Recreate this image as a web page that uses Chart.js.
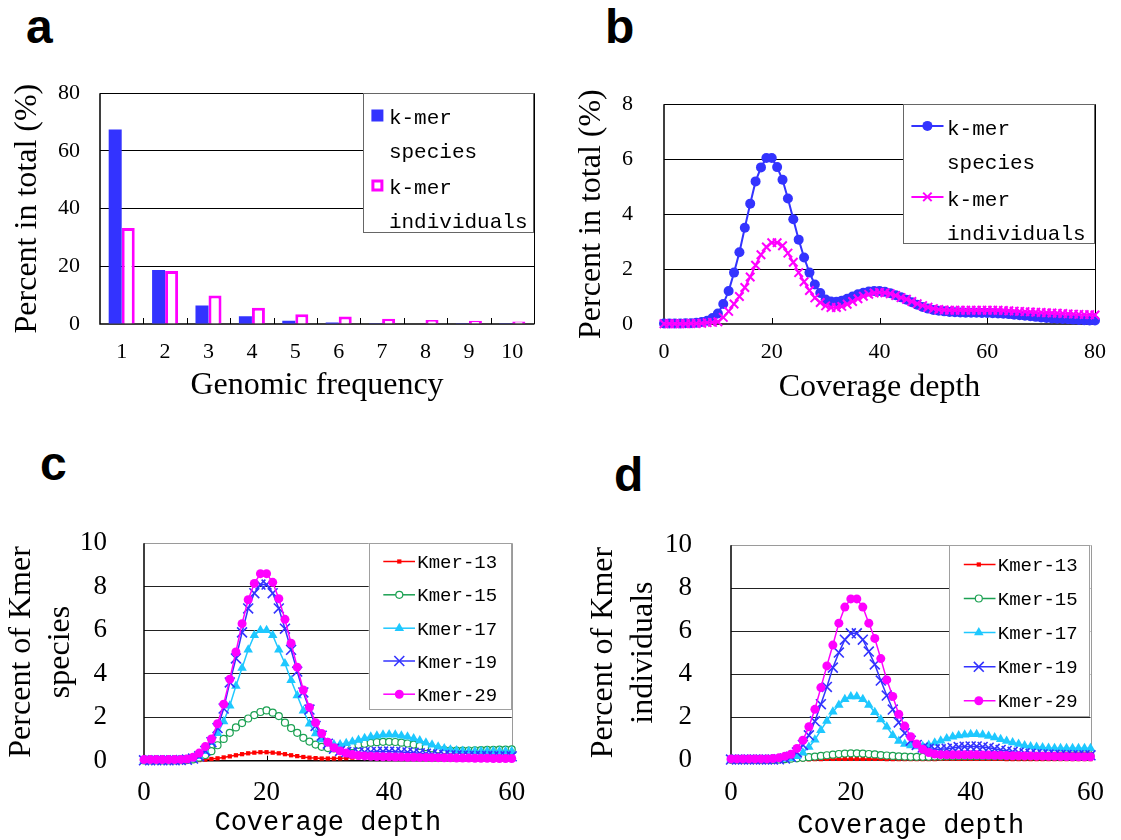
<!DOCTYPE html>
<html>
<head>
<meta charset="utf-8">
<script src="https://cdn.jsdelivr.net/npm/chart.js@4.4.1/dist/chart.umd.min.js"></script>
<style>
    html, body { margin: 0; padding: 0; background: #fff; }
    body { width: 1121px; height: 840px; position: relative; overflow: hidden; }
    canvas { position: absolute; }
    .tag { position: absolute; font: bold 48px "Liberation Sans", Arial, sans-serif; line-height: 48px; color: #000; }
</style>
</head>
<body>
<div class="tag" style="left:26px;top:3px">a</div>
<div class="tag" style="left:605px;top:3px">b</div>
<div class="tag" style="left:40px;top:440px">c</div>
<div class="tag" style="left:614px;top:451px">d</div>

<canvas id="chartA" width="560" height="360" style="left:0;top:60px"></canvas>
<canvas id="chartB" width="561" height="360" style="left:560px;top:60px"></canvas>
<canvas id="chartC" width="560" height="355" style="left:0;top:490px"></canvas>
<canvas id="chartD" width="541" height="355" style="left:580px;top:490px"></canvas>

<script>
// a: genomic frequency of k-mers
var freqLabels = ['1', '2', '3', '4', '5', '6', '7', '8', '9', '10'];
var speciesPct = [67.4, 18.7, 6.4, 2.7, 1.1, 0.5, 0.3, 0.15, 0.1, 0.05];
var individualsPct = [33.3, 18.4, 9.9, 5.6, 3.4, 2.6, 1.8, 1.4, 1.1, 0.9];

// b: coverage depth 0..80
var depthB = [];
for (var i = 0; i <= 80; i++) depthB.push(i);
var speciesDepth = [0.02, 0.02, 0.02, 0.02, 0.03, 0.03, 0.05, 0.07, 0.12, 0.22,
    0.38, 0.73, 1.2, 1.87, 2.61, 3.5, 4.38, 5.19, 5.7, 6.04,
    6.04, 5.71, 5.25, 4.57, 3.81, 3.07, 2.42, 1.87, 1.44, 1.13,
    0.89, 0.82, 0.81, 0.85, 0.92, 1.0, 1.08, 1.14, 1.18, 1.2,
    1.2, 1.17, 1.12, 1.05, 0.97, 0.88, 0.79, 0.7, 0.62, 0.56,
    0.51, 0.48, 0.46, 0.44, 0.43, 0.42, 0.41, 0.41, 0.41, 0.4,
    0.4, 0.39, 0.38, 0.37, 0.36, 0.34, 0.32, 0.3, 0.28, 0.26,
    0.24, 0.22, 0.2, 0.19, 0.18, 0.17, 0.16, 0.15, 0.14, 0.13, 0.13];
var individualsDepth = [0.01, 0.01, 0.01, 0.01, 0.01, 0.02, 0.02, 0.03, 0.05, 0.06,
    0.08, 0.24, 0.46, 0.73, 1.0, 1.33, 1.71, 2.14, 2.52, 2.8,
    2.96, 2.96, 2.85, 2.58, 2.25, 1.87, 1.54, 1.22, 0.95, 0.78,
    0.66, 0.6, 0.6, 0.64, 0.72, 0.82, 0.92, 1.01, 1.08, 1.13,
    1.15, 1.14, 1.1, 1.04, 0.96, 0.9, 0.82, 0.74, 0.67, 0.61,
    0.56, 0.53, 0.51, 0.5, 0.5, 0.5, 0.5, 0.5, 0.5, 0.5,
    0.5, 0.5, 0.5, 0.49, 0.48, 0.47, 0.46, 0.45, 0.44, 0.43,
    0.42, 0.41, 0.4, 0.39, 0.38, 0.37, 0.36, 0.35, 0.34, 0.34, 0.33];

// c, d: coverage depth 0..60 for several k
var depthCD = [];
for (var j = 0; j <= 60; j++) depthCD.push(j);
var kmerNames = ['Kmer-13', 'Kmer-15', 'Kmer-17', 'Kmer-19', 'Kmer-29'];

var speciesK13 = [0.01, 0.01, 0.01, 0.01, 0.01, 0.01, 0.01, 0.02, 0.02, 0.03,
    0.05, 0.08, 0.11, 0.15, 0.2, 0.25, 0.3, 0.34, 0.37, 0.39,
    0.39, 0.37, 0.34, 0.3, 0.25, 0.21, 0.17, 0.14, 0.12, 0.1,
    0.1, 0.1, 0.11, 0.12, 0.14, 0.16, 0.17, 0.18, 0.19, 0.2,
    0.2, 0.2, 0.19, 0.18, 0.17, 0.16, 0.15, 0.14, 0.13, 0.12,
    0.12, 0.11, 0.11, 0.1, 0.1, 0.1, 0.1, 0.1, 0.1, 0.1, 0.1];
var speciesK15 = [0.01, 0.01, 0.01, 0.01, 0.01, 0.01, 0.02, 0.03, 0.06, 0.14,
    0.26, 0.44, 0.71, 1.0, 1.28, 1.53, 1.73, 1.94, 2.1, 2.24,
    2.31, 2.21, 2.05, 1.75, 1.5, 1.28, 1.05, 0.88, 0.74, 0.64,
    0.58, 0.56, 0.58, 0.62, 0.67, 0.73, 0.78, 0.82, 0.85, 0.87,
    0.87, 0.86, 0.83, 0.79, 0.74, 0.68, 0.62, 0.57, 0.52, 0.49,
    0.47, 0.46, 0.46, 0.47, 0.48, 0.49, 0.5, 0.5, 0.51, 0.51, 0.52];
var speciesK17 = [0.01, 0.01, 0.01, 0.01, 0.01, 0.01, 0.02, 0.04, 0.08, 0.2,
    0.44, 0.85, 1.26, 1.8, 2.53, 3.44, 4.26, 5.1, 5.77, 6.0,
    6.0, 5.77, 5.1, 4.47, 3.7, 3.0, 2.3, 1.7, 1.25, 0.98,
    0.82, 0.75, 0.75, 0.8, 0.87, 0.95, 1.03, 1.1, 1.15, 1.19,
    1.2, 1.19, 1.15, 1.1, 1.02, 0.93, 0.83, 0.73, 0.64, 0.56,
    0.5, 0.47, 0.45, 0.44, 0.44, 0.44, 0.44, 0.44, 0.44, 0.44, 0.44];
var speciesK19 = [0.02, 0.02, 0.02, 0.02, 0.02, 0.02, 0.03, 0.05, 0.1, 0.2,
    0.45, 0.85, 1.5, 2.4, 3.6, 4.7, 5.9, 7.0, 7.7, 8.1,
    8.1, 7.7, 7.0, 6.07, 5.1, 4.1, 3.14, 2.35, 1.6, 1.15,
    0.78, 0.55, 0.45, 0.4, 0.38, 0.38, 0.39, 0.4, 0.41, 0.42,
    0.42, 0.41, 0.4, 0.38, 0.36, 0.34, 0.32, 0.3, 0.28, 0.26,
    0.25, 0.24, 0.23, 0.22, 0.22, 0.21, 0.21, 0.2, 0.2, 0.2, 0.2];
var speciesK29 = [0.05, 0.05, 0.05, 0.05, 0.05, 0.05, 0.06, 0.08, 0.16, 0.35,
    0.65, 1.0, 1.7, 2.6, 3.75, 5.0, 6.3, 7.4, 8.15, 8.6,
    8.6, 8.2, 7.45, 6.5, 5.4, 4.3, 3.25, 2.45, 1.75, 1.25,
    0.85, 0.6, 0.45, 0.35, 0.28, 0.24, 0.22, 0.2, 0.19, 0.18,
    0.18, 0.17, 0.17, 0.16, 0.16, 0.15, 0.15, 0.14, 0.14, 0.13,
    0.13, 0.12, 0.12, 0.12, 0.11, 0.11, 0.11, 0.1, 0.1, 0.1, 0.1];

var indivK13 = [0.01, 0.01, 0.01, 0.01, 0.01, 0.01, 0.01, 0.01, 0.01, 0.01,
    0.01, 0.02, 0.03, 0.03, 0.04, 0.04, 0.05, 0.05, 0.05, 0.05,
    0.05, 0.05, 0.05, 0.05, 0.05, 0.05, 0.04, 0.04, 0.04, 0.04,
    0.04, 0.04, 0.04, 0.04, 0.04, 0.05, 0.05, 0.05, 0.05, 0.05,
    0.05, 0.05, 0.05, 0.05, 0.05, 0.05, 0.04, 0.04, 0.04, 0.04,
    0.04, 0.04, 0.04, 0.04, 0.04, 0.04, 0.04, 0.04, 0.04, 0.04, 0.04];
var indivK15 = [0.01, 0.01, 0.01, 0.01, 0.01, 0.01, 0.01, 0.01, 0.02, 0.04,
    0.06, 0.08, 0.1, 0.13, 0.16, 0.19, 0.22, 0.25, 0.28, 0.3,
    0.31, 0.31, 0.3, 0.28, 0.26, 0.23, 0.21, 0.19, 0.17, 0.16,
    0.15, 0.15, 0.15, 0.15, 0.16, 0.16, 0.17, 0.17, 0.18, 0.18,
    0.18, 0.18, 0.18, 0.18, 0.18, 0.18, 0.18, 0.18, 0.18, 0.18,
    0.18, 0.19, 0.19, 0.19, 0.19, 0.2, 0.2, 0.2, 0.2, 0.2, 0.2];
var indivK17 = [0.01, 0.01, 0.01, 0.01, 0.01, 0.01, 0.01, 0.02, 0.03, 0.05,
    0.08, 0.18, 0.34, 0.6, 0.94, 1.39, 1.82, 2.25, 2.56, 2.83,
    2.96, 2.96, 2.83, 2.56, 2.22, 1.89, 1.55, 1.15, 0.88, 0.74,
    0.67, 0.63, 0.64, 0.7, 0.8, 0.9, 1.0, 1.08, 1.14, 1.18,
    1.2, 1.2, 1.17, 1.12, 1.05, 0.97, 0.89, 0.81, 0.74, 0.68,
    0.63, 0.6, 0.58, 0.56, 0.55, 0.55, 0.55, 0.55, 0.55, 0.55, 0.55];
var indivK19 = [0.02, 0.02, 0.02, 0.02, 0.02, 0.02, 0.02, 0.02, 0.03, 0.07,
    0.15, 0.35, 0.7, 1.15, 1.8, 2.6, 3.4, 4.3, 5.0, 5.6,
    5.9, 5.9, 5.6, 5.05, 4.45, 3.7, 3.0, 2.35, 1.75, 1.25,
    0.9, 0.7, 0.58, 0.52, 0.5, 0.5, 0.52, 0.56, 0.6, 0.62,
    0.63, 0.63, 0.61, 0.57, 0.52, 0.47, 0.42, 0.38, 0.34, 0.31,
    0.29, 0.27, 0.26, 0.25, 0.24, 0.23, 0.23, 0.22, 0.22, 0.22, 0.22];
var indivK29 = [0.05, 0.05, 0.05, 0.05, 0.05, 0.05, 0.05, 0.07, 0.1, 0.18,
    0.27, 0.54, 0.92, 1.55, 2.36, 3.37, 4.38, 5.35, 6.37, 7.12,
    7.5, 7.5, 7.12, 6.37, 5.66, 4.72, 3.73, 2.96, 2.13, 1.58,
    1.08, 0.74, 0.5, 0.35, 0.28, 0.25, 0.24, 0.24, 0.24, 0.24,
    0.24, 0.24, 0.23, 0.23, 0.22, 0.22, 0.21, 0.2, 0.2, 0.19,
    0.19, 0.18, 0.18, 0.17, 0.17, 0.16, 0.16, 0.15, 0.15, 0.15, 0.15];

var abLegendLines = [['k-mer', 'species'], ['k-mer', 'individuals']];

var serif = 'Liberation Serif, Times New Roman, serif';
var mono = 'Liberation Mono, Courier New, monospace';

function toPoints(xs, ys) {
    return xs.map(function (x, k) { return { x: x, y: ys[k] }; });
}

// axes drawn as a frame plus small inward ticks on the x axis
var panelFrame = {
    id: 'panelFrame',
    beforeDatasetsDraw: function (chart, args, o) {
        var ctx = chart.ctx, a = chart.chartArea, xs = chart.scales.x;
        var pos = [];
        if (o.between) {
            for (var k = 0; k < chart.data.labels.length - 1; k++) {
                pos.push((xs.getPixelForValue(k) + xs.getPixelForValue(k + 1)) / 2);
            }
        } else {
            o.tickValues.forEach(function (v) { pos.push(xs.getPixelForValue(v)); });
        }
        ctx.save();
        ctx.strokeStyle = o.tickColor;
        ctx.lineWidth = 1;
        pos.forEach(function (p) {
            var x = Math.round(p) + 0.5;
            ctx.beginPath();
            ctx.moveTo(x, a.bottom);
            ctx.lineTo(x, a.bottom - o.tickLen);
            ctx.stroke();
        });
        ctx.strokeStyle = o.outerColor;
        ctx.lineWidth = 1;
        ctx.beginPath();
        ctx.moveTo(a.left, Math.round(a.top) + 0.5);
        ctx.lineTo(Math.round(a.right) + 0.5, Math.round(a.top) + 0.5);
        ctx.lineTo(Math.round(a.right) + 0.5, a.bottom);
        ctx.stroke();
        ctx.strokeStyle = '#000';
        ctx.lineWidth = 1.5;
        ctx.beginPath();
        ctx.moveTo(a.left, a.top);
        ctx.lineTo(a.left, a.bottom);
        ctx.lineTo(a.right + 0.5, a.bottom);
        ctx.stroke();
        ctx.restore();
    }
};

// legend box sitting in the top right corner of the plot
var boxLegend = {
    id: 'boxLegend',
    afterDatasetsDraw: function (chart, args, o) {
        var ctx = chart.ctx, a = chart.chartArea;
        var left = a.right - o.width, top = a.top + o.top;
        var drawPoint = Chart.helpers && Chart.helpers.drawPoint;
        ctx.save();
        ctx.fillStyle = '#fff';
        ctx.fillRect(left, top, o.width, o.height);
        ctx.strokeStyle = o.borderColor;
        ctx.lineWidth = 1;
        ctx.strokeRect(Math.round(left) + 0.5, Math.round(top) + 0.5, Math.round(o.width) - 1, Math.round(o.height) - 1);
        ctx.font = o.font;
        ctx.textAlign = 'left';
        ctx.textBaseline = 'alphabetic';
        chart.data.datasets.forEach(function (ds, k) {
            var cy = top + o.rows[k];
            var sx = left + o.symbolX;
            if (chart.config.type === 'bar') {
                ctx.fillStyle = ds.backgroundColor;
                if (ds.borderWidth) {
                    var s = o.box - ds.borderWidth;
                    ctx.strokeStyle = ds.borderColor;
                    ctx.lineWidth = ds.borderWidth;
                    ctx.fillRect(sx - s / 2, cy - s / 2, s, s);
                    ctx.strokeRect(sx - s / 2, cy - s / 2, s, s);
                } else {
                    ctx.fillRect(sx - o.box / 2, cy - o.box / 2, o.box, o.box);
                }
            } else {
                ctx.strokeStyle = ds.borderColor;
                ctx.lineWidth = ds.borderWidth;
                ctx.beginPath();
                ctx.moveTo(left + o.lineFrom, cy);
                ctx.lineTo(left + o.lineTo, cy);
                ctx.stroke();
                if (drawPoint) {
                    ctx.fillStyle = ds.pointBackgroundColor || ds.borderColor;
                    ctx.lineWidth = ds.pointBorderWidth;
                    drawPoint(ctx, { pointStyle: ds.pointStyle, radius: ds.pointRadius, borderWidth: ds.pointBorderWidth, rotation: 0 }, sx, cy);
                }
            }
            ctx.fillStyle = '#000';
            o.labels[k].forEach(function (t, n) {
                ctx.fillText(t, left + o.textX, cy + o.textDy + n * o.lineGap);
            });
        });
        ctx.restore();
    }
};

Chart.register(panelFrame, boxLegend);

function baseOptions(p) {
    return {
        responsive: false,
        animation: false,
        events: [],
        layout: { padding: { top: p.padTop, right: p.padRight, bottom: 0, left: 0 } },
        plugins: {
            legend: { display: false },
            tooltip: { enabled: false },
            panelFrame: p.frame,
            boxLegend: p.legend
        },
        scales: {
            x: {
                type: p.xType,
                offset: p.xType === 'category',
                min: p.xMin,
                max: p.xMax,
                grid: { display: false, drawTicks: false },
                border: { display: false },
                ticks: { stepSize: p.xStep, padding: p.xTickPad, color: '#000', font: { family: serif, size: p.tickSize }, maxRotation: 0, autoSkip: false },
                title: { display: true, text: p.xTitle, color: '#000', font: p.xTitleFont, padding: { top: 0, bottom: p.xTitlePad } },
                afterFit: function (s) { s.height = p.xHeight; }
            },
            y: {
                min: 0,
                max: p.yMax,
                grid: {
                    drawTicks: false,
                    lineWidth: 1,
                    color: function (c) {
                        if (c.tick && (c.tick.value === 0 || c.tick.value === p.yMax)) return 'rgba(0,0,0,0)';
                        return p.gridColor;
                    }
                },
                border: { display: false },
                ticks: { stepSize: p.yStep, padding: p.yTickPad, color: '#000', font: { family: serif, size: p.tickSize } },
                title: { display: true, text: p.yTitle, color: '#000', font: { family: serif, size: 32, lineHeight: 1.23 }, padding: { top: p.yTitlePad, bottom: 0 } },
                afterFit: function (s) { s.width = p.yWidth; }
            }
        }
    };
}

// panel a
var optA = baseOptions({
    padTop: 19, padRight: 26, xType: 'category', xTickPad: 15, tickSize: 22,
    xTitle: 'Genomic frequency', xTitleFont: { family: serif, size: 32, lineHeight: 1.2 }, xTitlePad: 15.6, xHeight: 96,
    yMax: 80, yStep: 20, yTickPad: 20, yTitle: 'Percent in total (%)', yTitlePad: 7.6, yWidth: 100, gridColor: '#000',
    frame: { between: true, tickLen: 6, tickColor: '#000', outerColor: '#000' },
    legend: { width: 170.6, height: 140.3, top: 0, borderColor: '#666', font: '21px ' + mono, rows: [22.3, 92.3], symbolX: 14, box: 12, textX: 25.5, textDy: 8.8, lineGap: 33.4, labels: abLegendLines }
});
new Chart(document.getElementById('chartA'), {
    type: 'bar',
    data: {
        labels: freqLabels,
        datasets: [{
            label: 'k-mer species',
            data: speciesPct,
            backgroundColor: '#3333FF',
            borderWidth: 0,
            categoryPercentage: 0.6,
            barPercentage: 1
        }, {
            label: 'k-mer individuals',
            data: individualsPct,
            backgroundColor: '#FFFFFF',
            borderColor: '#FF00FF',
            borderWidth: 3,
            categoryPercentage: 0.6,
            barPercentage: 1
        }]
    },
    options: optA
});

// panel b
var optB = baseOptions({
    padTop: 19, padRight: 22, xType: 'linear', xMin: 0, xMax: 80, xStep: 20, xTickPad: 15, tickSize: 22,
    xTitle: 'Coverage depth', xTitleFont: { family: serif, size: 32, lineHeight: 1.2 }, xTitlePad: 12.9, xHeight: 96,
    yMax: 8, yStep: 2, yTickPad: 31, yTitle: 'Percent in total (%)', yTitlePad: 12, yWidth: 104, gridColor: '#000',
    frame: { tickValues: [20, 40, 60], tickLen: 6, tickColor: '#000', outerColor: '#000' },
    legend: { width: 192, height: 140.3, top: 0, borderColor: '#666', font: '21px ' + mono, rows: [21.7, 92.7], symbolX: 24.4, lineFrom: 8.4, lineTo: 40.5, textX: 44, textDy: 9.3, lineGap: 33.6, labels: abLegendLines }
});
new Chart(document.getElementById('chartB'), {
    type: 'line',
    data: {
        datasets: [{
            label: 'k-mer species',
            data: toPoints(depthB, speciesDepth),
            borderColor: '#3333FF',
            backgroundColor: '#3333FF',
            pointBackgroundColor: '#3333FF',
            borderWidth: 2,
            pointStyle: 'circle',
            pointRadius: 5,
            pointBorderWidth: 0,
            tension: 0,
            clip: false,
            order: 1
        }, {
            label: 'k-mer individuals',
            data: toPoints(depthB, individualsDepth),
            borderColor: '#FF00FF',
            backgroundColor: '#FF00FF',
            pointBackgroundColor: '#FF00FF',
            borderWidth: 2,
            pointStyle: 'crossRot',
            pointRadius: 6,
            pointBorderWidth: 2,
            tension: 0,
            clip: false,
            order: 0
        }]
    },
    options: optB
});

// panels c and d share their series styling
var kmerStyles = [
    { color: '#FF0000', fill: '#FF0000', style: 'rect', radius: 3, bw: 0 },
    { color: '#1BA152', fill: '#FFFFFF', style: 'circle', radius: 3.5, bw: 1.2 },
    { color: '#1EC8FF', fill: '#1EC8FF', style: 'triangle', radius: 5.5, bw: 0 },
    { color: '#3333FF', fill: '#3333FF', style: 'crossRot', radius: 7, bw: 1.6 },
    { color: '#FF00FF', fill: '#FF00FF', style: 'circle', radius: 4.5, bw: 0 }
];

function kmerDatasets(series) {
    return series.map(function (vals, k) {
        var st = kmerStyles[k];
        return {
            label: kmerNames[k],
            data: toPoints(depthCD, vals),
            borderColor: st.color,
            backgroundColor: st.fill,
            pointBackgroundColor: st.fill,
            borderWidth: 1.5,
            pointStyle: st.style,
            pointRadius: st.radius,
            pointBorderWidth: st.bw,
            tension: 0,
            clip: false,
            order: series.length - k
        };
    });
}

var kmerLegendLines = kmerNames.map(function (n) { return [n]; });

var optC = baseOptions({
    padTop: 26.7, padRight: 48.3, xType: 'linear', xMin: 0, xMax: 60, xStep: 20, xTickPad: 16.4, tickSize: 27,
    xTitle: 'Coverage depth', xTitleFont: { family: mono, size: 27, lineHeight: 1.2 }, xTitlePad: 6, xHeight: 84.3,
    yMax: 10, yStep: 2, yTickPad: 37, yTitle: ['Percent of Kmer', 'species'], yTitlePad: 1.8, yWidth: 144, gridColor: '#222',
    frame: { tickValues: [20, 40], tickLen: 5, tickColor: '#000', outerColor: '#9a9a9a' },
    legend: { width: 143, height: 166.6, top: 0, borderColor: '#a0a0a0', font: '19px ' + mono, rows: [18.3, 51.6, 85, 117.8, 151], symbolX: 30.6, lineFrom: 14.6, lineTo: 46.3, textX: 48.6, textDy: 6.5, lineGap: 0, labels: kmerLegendLines }
});
new Chart(document.getElementById('chartC'), {
    type: 'line',
    data: { datasets: kmerDatasets([speciesK13, speciesK15, speciesK17, speciesK19, speciesK29]) },
    options: optC
});

var optD = baseOptions({
    padTop: 21.7, padRight: 19.5, xType: 'linear', xMin: 0, xMax: 60, xStep: 20, xTickPad: 17, tickSize: 27,
    xTitle: 'Coverage depth', xTitleFont: { family: mono, size: 27, lineHeight: 1.2 }, xTitlePad: 3, xHeight: 85,
    yMax: 10, yStep: 2, yTickPad: 39, yTitle: ['Percent of Kmer', 'individuals'], yTitlePad: 4.4, yWidth: 151, gridColor: '#222',
    frame: { tickValues: [20, 40], tickLen: 5, tickColor: '#000', outerColor: '#9a9a9a' },
    legend: { width: 141.4, height: 172, top: -0.7, borderColor: '#a0a0a0', font: '19px ' + mono, rows: [20, 54, 88, 122.3, 156.3], symbolX: 29.7, lineFrom: 14.7, lineTo: 46.4, textX: 48.7, textDy: 6.5, lineGap: 0, labels: kmerLegendLines }
});
new Chart(document.getElementById('chartD'), {
    type: 'line',
    data: { datasets: kmerDatasets([indivK13, indivK15, indivK17, indivK19, indivK29]) },
    options: optD
});
</script>
</body>
</html>
